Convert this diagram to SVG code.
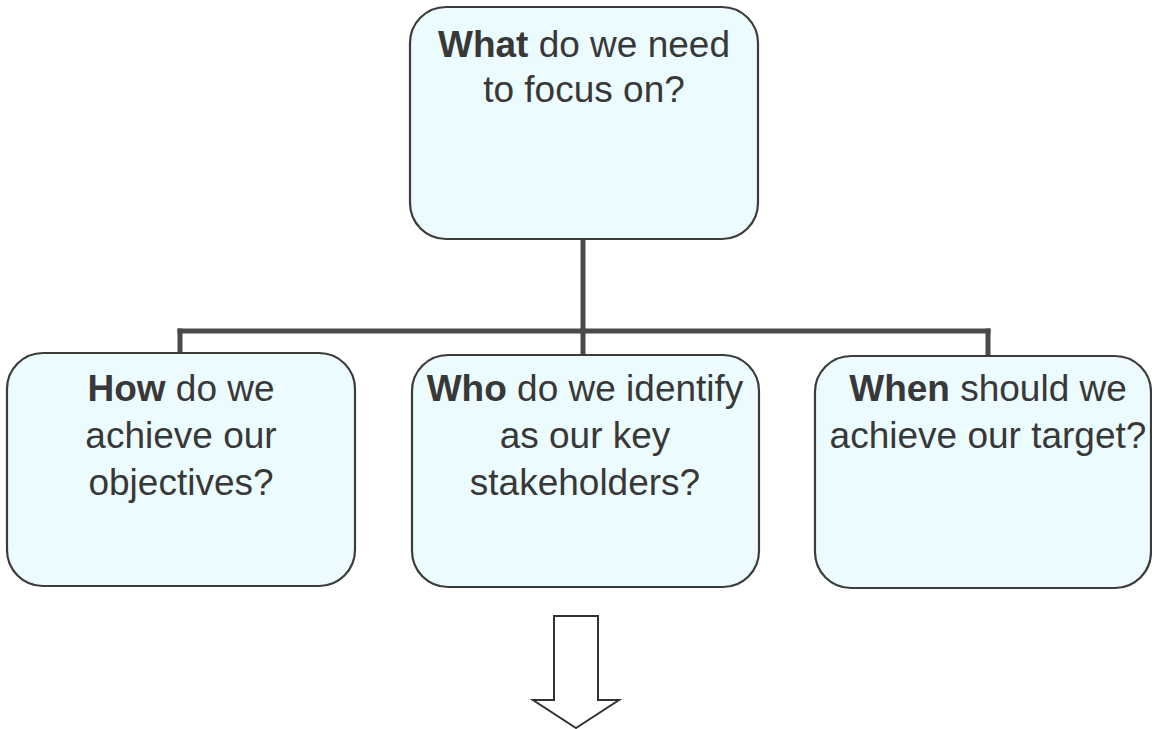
<svg xmlns="http://www.w3.org/2000/svg" width="1152" height="729" viewBox="0 0 1152 729">
  <style>
    .box { fill: #ecfbfd; stroke: #3c3c3c; stroke-width: 2.2; }
    .label { font-family: "Liberation Sans", Arial, sans-serif; font-size: 37px; fill: #383838; text-anchor: middle; }
    .label .b { font-weight: bold; }
    .wire { fill: none; stroke: #4a4a4a; stroke-width: 5; stroke-linecap: square; }
    .down { fill: #ffffff; stroke: #333333; stroke-width: 2; stroke-linejoin: miter; }
  </style>
  <rect width="1152" height="729" fill="#ffffff"/>

  <g id="connectors">
    <path class="wire" d="M583,239 V331"/>
    <path class="wire" d="M180,331 H988"/>
    <path class="wire" d="M180,331 V353"/>
    <path class="wire" d="M583,331 V355"/>
    <path class="wire" d="M988,331 V356"/>
  </g>

  <g id="what">
    <rect class="box" x="410" y="7" width="348" height="232" rx="36" ry="36"/>
    <text class="label" x="584" y="57"><tspan class="b">What</tspan> do we need</text>
    <text class="label" x="584" y="102">to focus on?</text>
  </g>

  <g id="how">
    <rect class="box" x="7" y="353" width="348" height="233" rx="36" ry="36"/>
    <text class="label" x="181" y="401"><tspan class="b">How</tspan> do we</text>
    <text class="label" x="181" y="448">achieve our</text>
    <text class="label" x="181" y="495">objectives?</text>
  </g>

  <g id="who">
    <rect class="box" x="412" y="355" width="347" height="232" rx="36" ry="36"/>
    <text class="label" x="585" y="401"><tspan class="b">Who</tspan> do we identify</text>
    <text class="label" x="585" y="448">as our key</text>
    <text class="label" x="585" y="495">stakeholders?</text>
  </g>

  <g id="when">
    <rect class="box" x="815" y="356" width="336" height="232" rx="36" ry="36"/>
    <text class="label" x="988" y="401"><tspan class="b">When</tspan> should we</text>
    <text class="label" x="988" y="448">achieve our target?</text>
  </g>

  <g id="next-arrow">
    <polygon class="down" points="554,616 598,616 598,700 619,700 576,728 533,700 554,700"/>
  </g>
</svg>
